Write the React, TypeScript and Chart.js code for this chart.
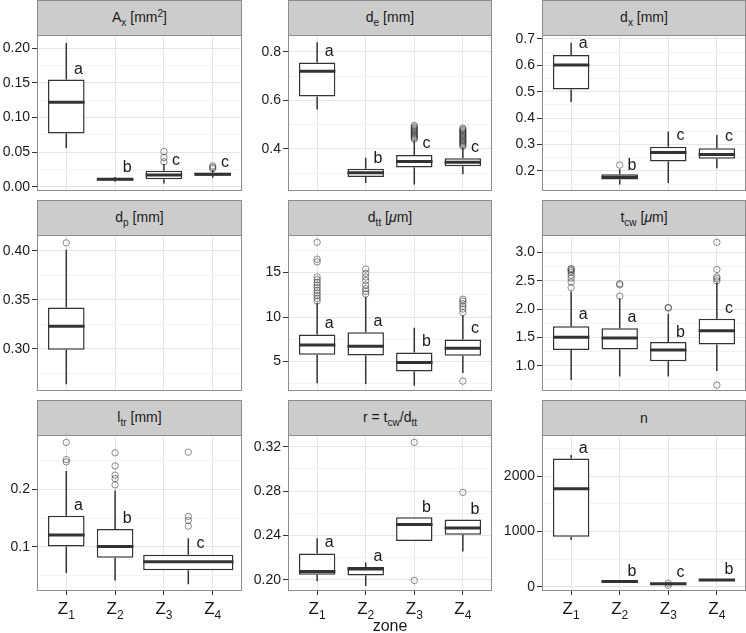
import React, { useEffect, useRef } from 'react';
import { Chart, registerables } from 'chart.js';

Chart.register(...registerables);

// ---------- data ----------
const zoneBase = 'Z';
const zoneSubs = ['1', '2', '3', '4'];
const zonePositions = [1, 2, 3, 4];

// each box: [lower whisker, Q1, median, Q3, upper whisker]
const axBoxes = [
  [0.056, 0.077, 0.122, 0.155, 0.208],
  [0.007, 0.009, 0.0108, 0.012, 0.014],
  [0.0044, 0.0108, 0.017, 0.0229, 0.0326],
  [0.013, 0.0156, 0.018, 0.020, 0.024],
];
const axOutliers = [[], [], [0.051, 0.042, 0.036], [0.030, 0.028, 0.026]];
const axLetters = ['a', 'b', 'c', 'c'];
const axLetterY = [0.1626, 0.0218, 0.0316, 0.0277];
const axTicks = [0, 0.05, 0.1, 0.15, 0.2];
const axMinor = [0.025, 0.075, 0.125, 0.175];
const axRange = [-0.0063, 0.2194];

const deBoxes = [
  [0.562, 0.615, 0.72, 0.756, 0.839],
  [0.259, 0.284, 0.301, 0.318, 0.363],
  [0.253, 0.323, 0.348, 0.374, 0.433],
  [0.295, 0.328, 0.344, 0.361, 0.405],
];
const deOutliers = [
  [],
  [],
  [0.44, 0.445, 0.45, 0.455, 0.46, 0.465, 0.47, 0.475, 0.48, 0.485, 0.49, 0.496],
  [0.41, 0.415, 0.42, 0.425, 0.43, 0.435, 0.44, 0.445, 0.45, 0.455, 0.46, 0.465, 0.47, 0.475, 0.48, 0.485],
];
const deLetters = ['a', 'b', 'c', 'c'];
const deLetterY = [0.783, 0.34, 0.404, 0.388];
const deTicks = [0.4, 0.6, 0.8];
const deMinor = [0.3, 0.5, 0.7];
const deRange = [0.226, 0.869];

const dxBoxes = [
  [0.461, 0.509, 0.601, 0.639, 0.686],
  [0.149, 0.168, 0.176, 0.187, 0.206],
  [0.154, 0.236, 0.27, 0.292, 0.349],
  [0.21, 0.246, 0.262, 0.286, 0.336],
];
const dxOutliers = [[], [0.222], [], []];
const dxLetters = ['a', 'b', 'c', 'c'];
const dxLetterY = [0.666, 0.2046, 0.318, 0.312];
const dxTicks = [0.2, 0.3, 0.4, 0.5, 0.6, 0.7];
const dxMinor = [0.15, 0.25, 0.35, 0.45, 0.55, 0.65];
const dxRange = [0.124, 0.715];

const dpPositions = [1];
const dpBoxes = [[0.264, 0.299, 0.323, 0.342, 0.401]];
const dpOutliers = [[0.408]];
const dpTicks = [0.3, 0.35, 0.4];
const dpMinor = [0.275, 0.325, 0.375];
const dpRange = [0.257, 0.416];

const dttBoxes = [
  [2.55, 5.77, 6.87, 8.04, 11.6],
  [2.47, 5.67, 6.72, 8.3, 12.26],
  [2.29, 3.87, 4.89, 6.02, 8.79],
  [3.7, 5.66, 6.49, 7.47, 10.2],
];
const dttOutliers = [
  [18.4, 16.5, 16.2, 14.5, 14.2, 13.9, 13.6, 13.3, 13.0, 12.7, 12.4, 12.1, 11.8],
  [15.4, 14.9, 14.5, 14.1, 13.6, 13.2, 12.9, 12.6],
  [],
  [12.0, 11.8, 11.5, 11.2, 10.9, 10.5, 2.8],
];
const dttLetters = ['a', 'a', 'b', 'c'];
const dttLetterY = [8.8, 8.98, 6.74, 8.24];
const dttTicks = [5, 10, 15];
const dttMinor = [2.5, 7.5, 12.5, 17.5];
const dttRange = [1.69, 19.22];

const tcwBoxes = [
  [0.75, 1.28, 1.505, 1.7, 2.31],
  [0.81, 1.29, 1.49, 1.665, 2.19],
  [0.81, 1.08, 1.28, 1.42, 1.92],
  [0.91, 1.375, 1.62, 1.83, 2.47],
];
const tcwOutliers = [
  [2.72, 2.7, 2.68, 2.65, 2.6, 2.55, 2.48, 2.38],
  [2.45, 2.43, 2.23],
  [2.03, 2.02],
  [3.18, 2.7, 2.57, 2.54, 2.5, 0.66],
];
const tcwLetters = ['a', 'a', 'b', 'c'];
const tcwLetterY = [1.82, 1.78, 1.51, 1.94];
const tcwTicks = [1.0, 1.5, 2.0, 2.5, 3.0];
const tcwMinor = [0.75, 1.25, 1.75, 2.25, 2.75, 3.25];
const tcwRange = [0.555, 3.31];

const ltrPositions = [1, 2, 3.5];
const ltrWidths = [0.75, 0.75, 1.85];
const ltrBoxes = [
  [0.054, 0.1005, 0.1205, 0.154, 0.232],
  [0.041, 0.081, 0.1005, 0.131, 0.198],
  [0.0346, 0.059, 0.074, 0.086, 0.115],
];
const ltrOutliers = [
  [0.282, 0.252, 0.248],
  [0.264, 0.241, 0.225, 0.219, 0.208],
  [0.265, 0.153, 0.146, 0.136],
];
const ltrLetters = ['a', 'b', 'c'];
const ltrLetterY = [0.165, 0.141, 0.0977];
const ltrTicks = [0.1, 0.2];
const ltrMinor = [0.05, 0.15, 0.25];
const ltrRange = [0.0228, 0.295];

const rBoxes = [
  [0.1989, 0.2046, 0.2076, 0.2239, 0.2375],
  [0.1946, 0.204, 0.2098, 0.2116, 0.2157],
  [0.2351, 0.2351, 0.2499, 0.2565, 0.2565],
  [0.2257, 0.2406, 0.2467, 0.2545, 0.2545],
];
const rOutliers = [[], [], [0.324, 0.1995], [0.2789]];
const rLetters = ['a', 'a', 'b', 'b'];
const rLetterY = [0.2293, 0.2166, 0.2612, 0.2591];
const rTicks = [0.2, 0.24, 0.28, 0.32];
const rMinor = [0.22, 0.26, 0.3];
const rRange = [0.19, 0.3306];

const nBoxes = [
  [849, 909, 1776, 2321, 2382],
  [85, 92, 100, 110, 118],
  [40, 48, 58, 66, 75],
  [110, 118, 127, 135, 145],
];
const nOutliers = [[], [], [68, 30], []];
const nLetters = ['a', 'b', 'c', 'b'];
const nLetterY = [2418, 204, 176, 240];
const nTicks = [0, 1000, 2000];
const nMinor = [500, 1500, 2500];
const nRange = [-73, 2745];

// ---------- layout / style ----------
const W = 746;
const H = 633;
const COL_LEFT = [37, 288, 542];
const COL_RIGHT = [242, 492, 746];
const CANVAS_LEFT = [0, 242, 492];
const STRIP_TOP = [0, 200, 400];
const ROW_TOP = [35, 235, 435];
const ROW_BOTTOM = [191, 391, 591];
const PAD_TOP = 10;
const PAD_BOTTOM = 8;
const BOX_COLOR = '#333333';
const BORDER_COLOR = '#8c8c8c';
const TEXT_COLOR = '#1a1a1a';
const FONT = '"Liberation Sans", Arial, Helvetica, sans-serif';
const LETTER_DX = 0.25;

const Sub = ({ children }: { children: React.ReactNode }) => (
  <span style={{ fontSize: '0.72em', position: 'relative', top: '0.35em' }}>{children}</span>
);
const Sup = ({ children }: { children: React.ReactNode }) => (
  <span style={{ fontSize: '0.72em', position: 'relative', top: '-0.45em' }}>{children}</span>
);
const Mu = () => <i>μ</i>;

interface PanelCfg {
  key: string;
  row: number;
  col: number;
  title: React.ReactNode;
  positions: number[];
  widths: number[];
  boxes: number[][];
  outliers: number[][];
  letters: string[];
  letterY: number[];
  ticks: number[];
  minor: number[];
  range: number[];
  decimals: number;
}

const std = [0.75, 0.75, 0.75, 0.75];

const panels: PanelCfg[] = [
  { key: 'ax', row: 0, col: 0, title: <>A<Sub>x</Sub> [mm<Sup>2</Sup>]</>, positions: zonePositions, widths: std, boxes: axBoxes, outliers: axOutliers, letters: axLetters, letterY: axLetterY, ticks: axTicks, minor: axMinor, range: axRange, decimals: 2 },
  { key: 'de', row: 0, col: 1, title: <>d<Sub>e</Sub> [mm]</>, positions: zonePositions, widths: std, boxes: deBoxes, outliers: deOutliers, letters: deLetters, letterY: deLetterY, ticks: deTicks, minor: deMinor, range: deRange, decimals: 1 },
  { key: 'dx', row: 0, col: 2, title: <>d<Sub>x</Sub> [mm]</>, positions: zonePositions, widths: std, boxes: dxBoxes, outliers: dxOutliers, letters: dxLetters, letterY: dxLetterY, ticks: dxTicks, minor: dxMinor, range: dxRange, decimals: 1 },
  { key: 'dp', row: 1, col: 0, title: <>d<Sub>p</Sub> [mm]</>, positions: dpPositions, widths: std, boxes: dpBoxes, outliers: dpOutliers, letters: [], letterY: [], ticks: dpTicks, minor: dpMinor, range: dpRange, decimals: 2 },
  { key: 'dtt', row: 1, col: 1, title: <>d<Sub>tt</Sub> [<Mu />m]</>, positions: zonePositions, widths: std, boxes: dttBoxes, outliers: dttOutliers, letters: dttLetters, letterY: dttLetterY, ticks: dttTicks, minor: dttMinor, range: dttRange, decimals: 0 },
  { key: 'tcw', row: 1, col: 2, title: <>t<Sub>cw</Sub> [<Mu />m]</>, positions: zonePositions, widths: std, boxes: tcwBoxes, outliers: tcwOutliers, letters: tcwLetters, letterY: tcwLetterY, ticks: tcwTicks, minor: tcwMinor, range: tcwRange, decimals: 1 },
  { key: 'ltr', row: 2, col: 0, title: <>l<Sub>tr</Sub> [mm]</>, positions: ltrPositions, widths: ltrWidths, boxes: ltrBoxes, outliers: ltrOutliers, letters: ltrLetters, letterY: ltrLetterY, ticks: ltrTicks, minor: ltrMinor, range: ltrRange, decimals: 1 },
  { key: 'r', row: 2, col: 1, title: <>r = t<Sub>cw</Sub>/d<Sub>tt</Sub></>, positions: zonePositions, widths: std, boxes: rBoxes, outliers: rOutliers, letters: rLetters, letterY: rLetterY, ticks: rTicks, minor: rMinor, range: rRange, decimals: 2 },
  { key: 'n', row: 2, col: 2, title: <>n</>, positions: zonePositions, widths: std, boxes: nBoxes, outliers: nOutliers, letters: nLetters, letterY: nLetterY, ticks: nTicks, minor: nMinor, range: nRange, decimals: 0 },
];

function Panel({ cfg }: { cfg: PanelCfg }) {
  const ref = useRef<HTMLCanvasElement>(null);
  const left = CANVAS_LEFT[cfg.col];
  const width = COL_RIGHT[cfg.col] - left;
  const top = ROW_TOP[cfg.row] - PAD_TOP;
  const bottomRow = cfg.row === 2;
  const padBottom = bottomRow ? 0 : PAD_BOTTOM;
  const height = (bottomRow ? H : ROW_BOTTOM[cfg.row] + PAD_BOTTOM) - top;
  const xAxisH = bottomRow ? H - ROW_BOTTOM[cfg.row] : 0;
  const yAxisW = COL_LEFT[cfg.col] - left;

  useEffect(() => {
    const canvas = ref.current;
    if (!canvas) return;
    const datasets: any[] = [];
    cfg.boxes.forEach((b, i) => {
      datasets.push({
        type: 'bar',
        data: [{ x: cfg.positions[i], y: [b[1], b[3]] }],
        stats: b,
        backgroundColor: '#ffffff',
        borderColor: BOX_COLOR,
        borderWidth: 1.5,
        borderSkipped: false,
        barPercentage: cfg.widths[i],
        categoryPercentage: 1,
        grouped: false,
        order: 2,
      });
    });
    const pts: { x: number; y: number }[] = [];
    cfg.outliers.forEach((arr, i) => arr.forEach((v) => pts.push({ x: cfg.positions[i], y: v })));
    if (pts.length) {
      datasets.push({
        type: 'scatter',
        data: pts,
        pointRadius: 3.2,
        pointBorderWidth: 1,
        pointBackgroundColor: 'rgba(0,0,0,0)',
        pointBorderColor: 'rgba(30,30,30,0.5)',
        order: 1,
      });
    }

    const allTicks = [...cfg.ticks.map((v) => ({ value: v, isMajor: true })), ...cfg.minor.map((v) => ({ value: v, isMajor: false }))]
      .sort((a, b) => a.value - b.value);

    const decor = {
      id: 'facetDecor',
      afterDatasetsDraw(chart: any) {
        const ctx = chart.ctx;
        const xS = chart.scales.x;
        const yS = chart.scales.y;
        ctx.save();
        chart.data.datasets.forEach((ds: any, di: number) => {
          if (!ds.stats) return;
          const el = chart.getDatasetMeta(di).data[0];
          const x = el.x;
          const w = el.width;
          const [lo, q1, med, q3, hi] = ds.stats;
          ctx.strokeStyle = BOX_COLOR;
          ctx.lineWidth = 1.5;
          ctx.beginPath();
          ctx.moveTo(x, yS.getPixelForValue(q3));
          ctx.lineTo(x, yS.getPixelForValue(hi));
          ctx.moveTo(x, yS.getPixelForValue(q1));
          ctx.lineTo(x, yS.getPixelForValue(lo));
          ctx.stroke();
          const ym = yS.getPixelForValue(med);
          ctx.lineWidth = 3;
          ctx.beginPath();
          ctx.moveTo(x - w / 2, ym);
          ctx.lineTo(x + w / 2, ym);
          ctx.stroke();
        });
        ctx.fillStyle = TEXT_COLOR;
        ctx.font = `16px ${FONT}`;
        ctx.textAlign = 'center';
        ctx.textBaseline = 'alphabetic';
        cfg.letters.forEach((l, i) => {
          ctx.fillText(l, xS.getPixelForValue(cfg.positions[i] + LETTER_DX), yS.getPixelForValue(cfg.letterY[i]));
        });
        ctx.restore();
      },
      afterDraw(chart: any) {
        const ctx = chart.ctx;
        const a = chart.chartArea;
        ctx.save();
        ctx.strokeStyle = BORDER_COLOR;
        ctx.lineWidth = 1;
        ctx.strokeRect(a.left + 0.5, a.top + 0.5, a.right - a.left - 1, a.bottom - a.top - 1);
        if (bottomRow) {
          const xS = chart.scales.x;
          ctx.fillStyle = TEXT_COLOR;
          ctx.textBaseline = 'alphabetic';
          ctx.textAlign = 'left';
          zonePositions.forEach((p, i) => {
            const cx = xS.getPixelForValue(p);
            ctx.font = `17px ${FONT}`;
            const wb = ctx.measureText(zoneBase).width;
            ctx.font = `12px ${FONT}`;
            const ws = ctx.measureText(zoneSubs[i]).width;
            const x0 = cx - (wb + ws) / 2;
            const yb = a.bottom + 23;
            ctx.font = `17px ${FONT}`;
            ctx.fillText(zoneBase, x0, yb);
            ctx.font = `12px ${FONT}`;
            ctx.fillText(zoneSubs[i], x0 + wb, yb + 5);
          });
        }
        ctx.restore();
      },
    };

    const chart = new Chart(canvas, {
      type: 'bar',
      data: { datasets },
      plugins: [decor],
      options: {
        animation: false,
        responsive: false,
        maintainAspectRatio: false,
        devicePixelRatio: 1,
        layout: { padding: { top: PAD_TOP, bottom: padBottom, left: 0, right: 0 }, autoPadding: false },
        plugins: { legend: { display: false }, tooltip: { enabled: false }, title: { display: false } },
        scales: {
          x: {
            type: 'linear',
            min: 0.4,
            max: 4.6,
            bounds: 'data',
            offset: false,
            afterBuildTicks: (s: any) => {
              s.ticks = zonePositions.map((v) => ({ value: v }));
            },
            afterFit: (s: any) => {
              s.height = xAxisH;
              s.paddingLeft = 0;
              s.paddingRight = 0;
            },
            ticks: { display: false, autoSkip: false },
            border: { display: false },
            grid: {
              offset: false,
              color: '#e6e6e6',
              lineWidth: 1,
              drawTicks: bottomRow,
              tickLength: 4,
              tickColor: BOX_COLOR,
              tickWidth: 1,
            },
          },
          y: {
            type: 'linear',
            min: cfg.range[0],
            max: cfg.range[1],
            bounds: 'data',
            afterBuildTicks: (s: any) => {
              s.ticks = allTicks.map((t) => ({ ...t }));
            },
            afterFit: (s: any) => {
              s.width = yAxisW;
              s.paddingTop = 0;
              s.paddingBottom = 0;
            },
            ticks: {
              autoSkip: false,
              padding: 2,
              color: TEXT_COLOR,
              font: { family: FONT, size: 14 },
              callback: (value: any, index: number, ticks: any[]) =>
                ticks[index] && ticks[index].isMajor ? Number(value).toFixed(cfg.decimals) : '',
            },
            border: { display: false },
            grid: {
              offset: false,
              color: (c: any) => (c.tick && c.tick.isMajor ? '#e6e6e6' : '#f3f3f3'),
              lineWidth: 1,
              drawTicks: true,
              tickLength: 5,
              tickWidth: 1,
              tickColor: (c: any) => (c.tick && c.tick.isMajor ? BOX_COLOR : 'rgba(0,0,0,0)'),
            },
          },
        },
      } as any,
    } as any);
    return () => chart.destroy();
  }, []);

  return (
    <canvas
      ref={ref}
      width={width}
      height={height}
      style={{ position: 'absolute', left, top, width, height, display: 'block' }}
    />
  );
}

export default function App() {
  return (
    <div
      style={{
        position: 'absolute',
        left: 0,
        top: 0,
        width: W,
        height: H,
        background: '#ffffff',
        fontFamily: FONT,
        overflow: 'hidden',
      }}
    >
      {panels.map((p) => (
        <React.Fragment key={p.key}>
          <div
            style={{
              position: 'absolute',
              left: COL_LEFT[p.col],
              top: STRIP_TOP[p.row],
              width: COL_RIGHT[p.col] - COL_LEFT[p.col],
              height: ROW_TOP[p.row] - STRIP_TOP[p.row] + 1,
              boxSizing: 'border-box',
              border: `1px solid ${BORDER_COLOR}`,
              background: '#cccccc',
              color: TEXT_COLOR,
              fontSize: 14,
              lineHeight: '14px',
              display: 'flex',
              alignItems: 'center',
              justifyContent: 'center',
              whiteSpace: 'nowrap',
            }}
          >
            <span>{p.title}</span>
          </div>
          <Panel cfg={p} />
        </React.Fragment>
      ))}
      <div
        style={{
          position: 'absolute',
          left: COL_LEFT[1],
          width: COL_RIGHT[1] - COL_LEFT[1],
          top: 617,
          height: 18,
          lineHeight: '18px',
          fontSize: 16,
          textAlign: 'center',
          color: TEXT_COLOR,
        }}
      >
        zone
      </div>
    </div>
  );
}
